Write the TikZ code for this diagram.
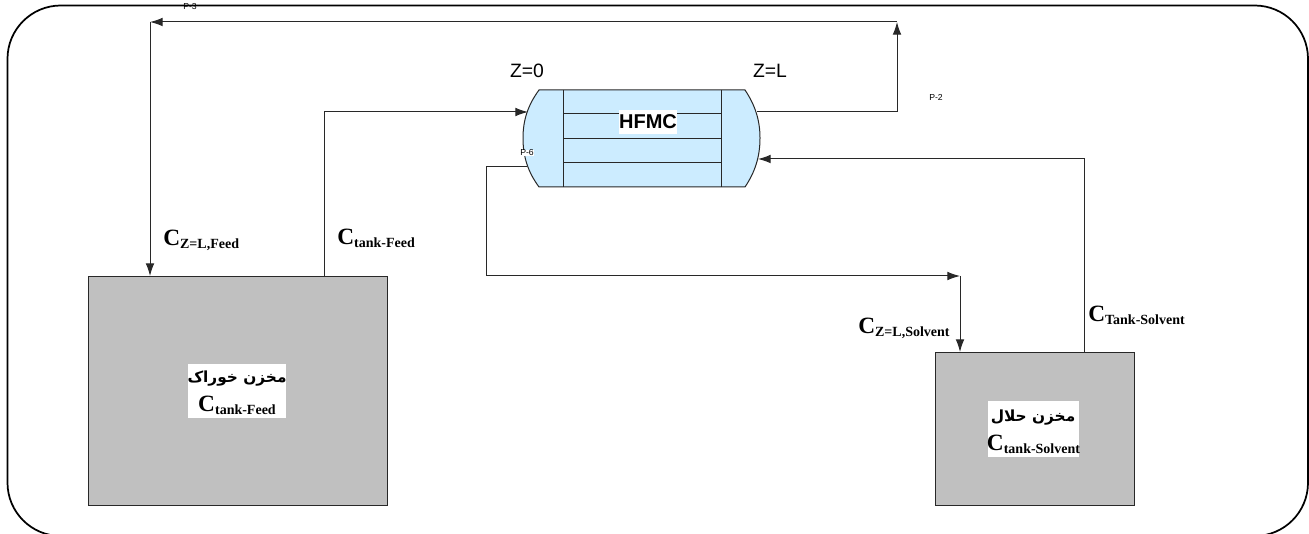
\documentclass[tikz,border=0pt]{standalone}
\usepackage{fontspec}
\setmainfont{Liberation Serif}
\setsansfont{Liberation Sans}
\newfontfamily\arabicfont[Script=Arabic]{DejaVu Sans}
\TeXXeTstate=1
\usetikzlibrary{arrows.meta}
\definecolor{tankgrey}{RGB}{192,192,192}
\definecolor{hxblue}{RGB}{204,236,255}
\definecolor{linedark}{RGB}{40,40,40}
\newcommand{\chem}[1]{{\bfseries\fontsize{17.5}{18}\selectfont C\raisebox{-0.28ex}{\fontsize{10.5}{12}\selectfont #1}}}
\newcommand{\artext}[1]{{\arabicfont\bfseries\fontsize{11.5}{14}\selectfont\beginR #1\endR}}
\tikzset{
  pipe/.style={draw=linedark,line width=0.75pt},
  flow/.style={pipe,-{Latex[length=9.5pt,width=6.5pt]}},
  tankbox/.style={draw=linedark,fill=tankgrey,line width=0.9pt,rectangle,inner sep=0pt,anchor=north west},
  lab/.style={inner sep=0pt,anchor=west},
  zlab/.style={inner sep=0pt,font=\sffamily\fontsize{14.5}{16}\selectfont},
  tag/.style={inner sep=0pt,font=\sffamily\fontsize{6.5}{7}\selectfont},
  whitelab/.style={fill=white,inner sep=0pt,align=center},
}
\begin{document}
\begin{tikzpicture}[x=0.75pt,y=-0.75pt]
\useasboundingbox (0,0) rectangle (1309,534);
\clip (0,0) rectangle (1309,534);
% outer frame
\draw[black,line width=1.3pt,rounded corners=40pt] (7.5,5.5) rectangle (1308,536);
% tanks
\node[tankbox,minimum width=224pt,minimum height=171.4pt] (feedtank) at (88,276) {};
\node[tankbox,minimum width=149.25pt,minimum height=114.4pt] (solventtank) at (935,352) {};
\node[whitelab,minimum width=73.5pt,minimum height=40.5pt] (feedlabel) at (237,391) {};
\node[inner sep=0pt] (feedar) at (237,379) {\artext{مخزن خوراک}};
\node[inner sep=0pt] (feedc) at (237,405) {\chem{tank-Feed}};
\node[whitelab,minimum width=68pt,minimum height=42pt] (solventlabel) at (1033.5,429) {};
\node[inner sep=0pt] (solventar) at (1033,418) {\artext{مخزن حلال}};
\node[inner sep=0pt] (solventc) at (1033.5,444) {\chem{tank-Solvent}};
% exchanger
\path[fill=hxblue,draw=linedark,line width=0.75pt]
  (539,90) -- (745,90) .. controls (755,105) and (760,120) .. (760,138)
  .. controls (760,157) and (755,172) .. (745,187) -- (539,187)
  .. controls (528,172) and (523,157) .. (523,138)
  .. controls (523,120) and (528,105) .. (539,90) -- cycle;
\coordinate (w1) at (563,90); \coordinate (w2) at (563,187);
\coordinate (e1) at (721,90); \coordinate (e2) at (721,187);
\coordinate (t1a) at (563,114); \coordinate (t1b) at (721,114);
\coordinate (t2a) at (563,139); \coordinate (t2b) at (721,139);
\coordinate (t3a) at (563,163); \coordinate (t3b) at (721,163);
\draw[pipe] (w1) -- (w2);
\draw[pipe] (e1) -- (e2);
\draw[pipe] (t1a) -- (t1b);
\draw[pipe] (t2a) -- (t2b);
\draw[pipe] (t3a) -- (t3b);
\node[fill=white,inner sep=0pt,minimum width=42.5pt,minimum height=18pt] (hfmc) at (648,122) {\sffamily\bfseries\fontsize{15}{16}\selectfont HFMC};
\node[zlab] (z0) at (527,71) {Z=0};
\node[zlab] (zl) at (770,71) {Z=L};
% ports
\coordinate (hxinF) at (528,112);
\coordinate (hxoutF) at (757,111.5);
\coordinate (hxinS) at (758,159);
\coordinate (hxoutS) at (527,166.5);
\coordinate (feedout) at (324,276);
\coordinate (feedin) at (150,276);
\coordinate (solout) at (1084,352);
\coordinate (solin) at (960,352);
\coordinate (cTopR) at (897,22);
\coordinate (cTopL) at (150,22);
\coordinate (cSol) at (960,276);
% connectors
\draw[flow] (feedout) -- (324,112) -- (hxinF);
\draw[flow] (hxoutF) -- (897,111.5) -- (cTopR);
\draw[flow] (cTopR) -- (cTopL);
\draw[flow] (cTopL) -- (feedin);
\draw[flow] (hxoutS) -- (486,166.5) -- (486,276) -- (cSol);
\draw[flow] (cSol) -- (solin);
\draw[flow] (solout) -- (1084,159) -- (hxinS);
% labels
\node[lab] (l1) at (163,240) {\chem{Z=L,Feed}};
\node[lab] (l2) at (337,238) {\chem{tank-Feed}};
\node[lab] (l3) at (858,328) {\chem{Z=L,Solvent}};
\node[lab] (l4) at (1088,315) {\chem{Tank-Solvent}};
\node[tag] (p3) at (190,7) {P-3};
\node[tag] (p2) at (936,97) {P-2};
\node[tag,fill=white] (p6) at (527,153) {P-6};
\end{tikzpicture}
\end{document}
